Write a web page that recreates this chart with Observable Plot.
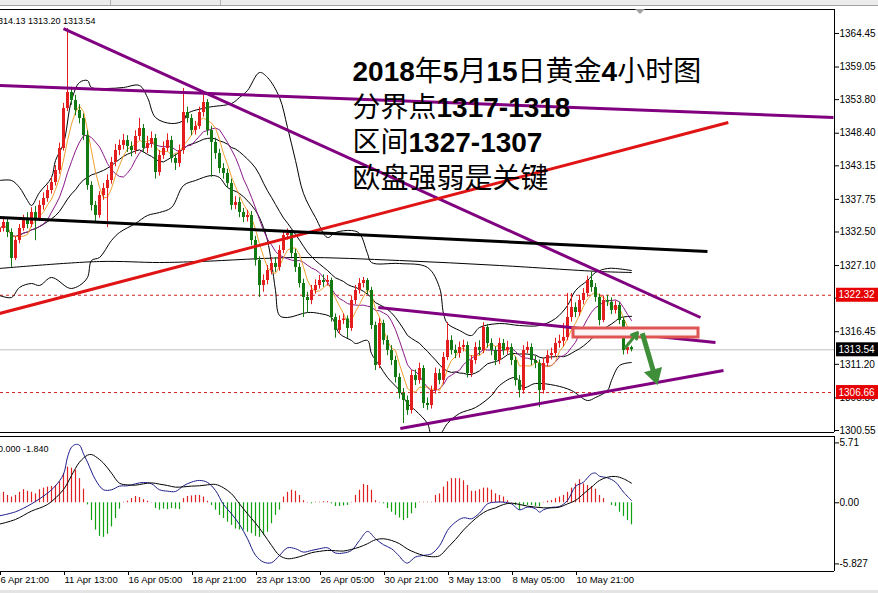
<!DOCTYPE html>
<html><head><meta charset="utf-8">
<script src="https://cdn.jsdelivr.net/npm/d3@7"></script>
<script src="https://cdn.jsdelivr.net/npm/@observablehq/plot@0.6"></script>
<style>
html,body{margin:0;padding:0;background:#fff;}
#wrap{position:relative;width:878px;height:593px;overflow:hidden;background:#fff;}
#wrap svg{position:absolute;left:0;}
.chrome{position:absolute;}
</style></head><body><div id="wrap">
<div class="chrome" style="left:0;top:0;width:878px;height:5px;background:#ececec"></div>
<div class="chrome" style="left:0;top:5px;width:878px;height:1px;background:#a0a0a0"></div>
<div class="chrome" style="left:110px;top:0;width:1px;height:5px;background:#b0b0b0"></div>
<div class="chrome" style="left:220px;top:0;width:1px;height:5px;background:#b0b0b0"></div>
<div class="chrome" style="left:0;top:590px;width:878px;height:3px;background:#e4e4e4"></div>
</div>
<script>
// ---------------- DATA (4H XAUUSD, bar index 0 = 6 Apr 21:00) ----------------
const open = [
1332.40,1333.06,1334.03,1332.42,1328.23,1331.13,1333.06,1334.35,1333.71,1335.64,
1334.67,1336.77,1337.89,1339.18,1340.47,1342.40,1345.94,1352.38,1354.95,1353.67,
1352.06,1350.77,1348.03,1339.98,1336.77,1335.16,1338.38,1339.50,1340.79,1343.69,
1345.62,1346.42,1347.23,1346.26,1345.62,1347.87,1349.16,1345.94,1346.74,1347.55,
1342.08,1344.81,1345.94,1347.23,1344.33,1343.53,1345.62,1351.73,1350.77,1348.83,
1349.48,1351.73,1353.34,1348.83,1346.91,1345.13,1342.72,1341.92,1340.31,1336.77,
1337.25,1335.64,1334.83,1335.16,1331.13,1327.91,1323.89,1324.69,1326.30,1327.43,
1326.79,1329.52,1331.94,1332.26,1329.04,1326.79,1324.21,1321.96,1321.47,1323.08,
1323.89,1324.69,1324.37,1324.69,1318.74,1316.65,1318.26,1318.50,1316.97,1321.47,
1323.08,1324.21,1324.69,1323.08,1317.45,1311.01,1317.77,1315.04,1313.43,1311.82,
1309.08,1306.51,1305.38,1303.77,1309.40,1308.60,1310.53,1304.90,1304.57,1306.99,
1309.72,1308.60,1312.30,1315.04,1313.43,1312.94,1313.91,1314.23,1309.72,1311.82,
1313.91,1313.43,1317.13,1314.55,1313.43,1311.82,1314.55,1313.43,1313.91,1311.82,
1308.60,1306.99,1313.43,1313.91,1311.82,1311.34,1306.99,1311.34,1312.62,1312.94,
1314.55,1314.90,1315.52,1318.74,1320.35,1319.54,1321.47,1322.60,1324.69,1323.56,
1321.96,1318.26,1321.47,1321.20,1319.87,1320.67,1318.26,1313.43,1313.91];
const high = [
1334.0,1334.9,1334.6,1333.0,1331.8,1333.7,1335.2,1335.6,1336.4,1336.6,
1337.5,1338.8,1340.0,1341.3,1343.2,1346.8,1353.2,1365.25,1355.8,1354.5,
1353.0,1351.5,1348.8,1340.6,1337.4,1339.0,1340.3,1341.7,1344.5,1346.6,
1347.3,1348.2,1348.0,1347.0,1348.8,1350.8,1349.8,1347.9,1348.6,1348.2,
1345.6,1347.0,1348.3,1347.9,1345.0,1346.5,1355.6,1352.6,1351.4,1350.3,
1352.6,1354.95,1353.8,1349.5,1347.6,1345.8,1343.5,1342.6,1341.0,1338.2,
1338.0,1336.3,1336.0,1335.8,1331.8,1328.5,1325.6,1327.1,1328.3,1328.4,
1330.3,1332.42,1333.0,1332.8,1329.7,1327.4,1324.9,1322.8,1323.9,1324.8,
1325.5,1325.6,1325.5,1325.1,1319.3,1319.0,1319.3,1319.0,1322.2,1323.9,
1325.0,1325.18,1325.0,1323.6,1318.0,1318.6,1318.3,1315.8,1314.2,1312.5,
1309.7,1307.3,1306.1,1310.2,1310.3,1311.4,1311.0,1305.8,1307.7,1310.6,
1310.4,1313.1,1317.93,1315.8,1314.3,1314.8,1315.1,1314.8,1312.6,1314.7,
1315.0,1317.9,1317.6,1315.3,1314.0,1315.4,1315.2,1314.9,1314.5,1312.4,
1309.4,1314.2,1314.8,1314.5,1312.5,1311.9,1312.2,1313.4,1313.8,1315.4,
1315.9,1317.77,1322.6,1322.6,1321.1,1322.3,1323.4,1325.4,1325.98,1324.2,
1322.5,1322.2,1322.3,1321.9,1321.4,1321.2,1318.7,1314.6,1314.13];
const low = [
1331.8,1332.5,1331.6,1326.8,1327.9,1330.6,1332.6,1333.0,1333.2,1331.1,
1334.2,1336.0,1337.3,1338.6,1339.9,1341.8,1345.5,1351.9,1352.9,1351.2,
1349.9,1347.2,1339.2,1335.9,1333.9,1334.7,1337.6,1333.2,1340.2,1343.0,
1344.8,1345.7,1345.3,1344.6,1345.0,1347.2,1345.2,1345.1,1346.0,1341.0,
1341.5,1344.2,1345.4,1343.6,1342.4,1342.9,1345.0,1350.0,1348.0,1348.1,
1349.0,1351.0,1348.0,1341.3,1344.2,1341.9,1341.0,1339.5,1336.0,1336.1,
1334.8,1334.0,1334.1,1330.3,1327.0,1321.96,1322.8,1324.0,1325.6,1326.0,
1326.2,1329.0,1331.2,1328.4,1326.0,1323.5,1318.74,1319.4,1320.8,1322.5,
1323.3,1323.6,1323.8,1318.0,1315.4,1316.0,1317.6,1315.36,1316.5,1320.8,
1322.5,1323.5,1322.4,1316.8,1310.2,1310.5,1314.3,1312.6,1311.0,1308.2,
1305.6,1301.68,1303.0,1303.2,1307.8,1308.0,1304.1,1303.8,1304.0,1306.4,
1307.9,1308.0,1311.8,1312.7,1312.1,1312.2,1313.2,1309.0,1309.1,1311.2,
1312.6,1312.9,1313.8,1312.6,1311.0,1311.2,1312.6,1312.8,1311.0,1307.7,
1305.8,1306.4,1312.9,1311.0,1310.5,1304.25,1306.4,1310.8,1311.9,1312.3,
1313.8,1314.0,1315.0,1318.0,1318.7,1318.9,1320.8,1322.0,1322.8,1321.2,
1317.4,1317.9,1320.5,1319.2,1319.3,1317.6,1312.7,1312.8,1313.20];
const close = [
1333.06,1334.03,1332.42,1328.23,1331.13,1333.06,1334.35,1333.71,1335.64,1334.67,
1336.77,1337.89,1339.18,1340.47,1342.40,1345.94,1352.38,1354.95,1353.67,1352.06,
1350.77,1348.03,1339.98,1336.77,1335.16,1338.38,1339.50,1340.79,1343.69,1345.62,
1346.42,1347.23,1346.26,1345.62,1347.87,1349.16,1345.94,1346.74,1347.55,1342.08,
1344.81,1345.94,1347.23,1344.33,1343.53,1345.62,1351.73,1350.77,1348.83,1349.48,
1351.73,1353.34,1348.83,1346.91,1345.13,1342.72,1341.92,1340.31,1336.77,1337.25,
1335.64,1334.83,1335.16,1331.13,1327.91,1323.89,1324.69,1326.30,1327.43,1326.79,
1329.52,1331.94,1332.26,1329.04,1326.79,1324.21,1321.96,1321.47,1323.08,1323.89,
1324.69,1324.37,1324.69,1318.74,1316.65,1318.26,1318.50,1316.97,1321.47,1323.08,
1324.21,1324.69,1323.08,1317.45,1311.01,1317.77,1315.04,1313.43,1311.82,1309.08,
1306.51,1305.38,1303.77,1309.40,1308.60,1310.53,1304.90,1304.57,1306.99,1309.72,
1308.60,1312.30,1315.04,1313.43,1312.94,1313.91,1314.23,1309.72,1311.82,1313.91,
1313.43,1317.13,1314.55,1313.43,1311.82,1314.55,1313.43,1313.91,1311.82,1308.60,
1306.99,1313.43,1313.91,1311.82,1311.34,1306.99,1311.34,1312.62,1312.94,1314.55,
1314.90,1315.52,1318.74,1320.35,1319.54,1321.47,1322.60,1324.69,1323.56,1321.96,
1318.26,1321.47,1321.20,1319.87,1320.67,1318.26,1313.43,1313.91,1313.54];

// Bollinger band envelopes and long moving average: [bar, price]
const bbUpper = [[0,1340.79],[3,1340.79],[5,1339.66],[7,1337.57],[8,1336.77],[10,1338.86],[13,1341.27],[14,1344.01],[16,1346.74],[18,1353.67],[20,1356.56],[22,1356.88],[23,1355.76],[27,1355.6],[31,1355.76],[35,1356.08],[37,1354.15],[39,1350.93],[43,1349.96],[46,1350.45],[47,1351.57],[52,1352.54],[58,1353.18],[60,1354.15],[62,1355.27],[65,1358.17],[67,1357.37],[70,1354.15],[72,1349.32],[74,1344.01],[76,1338.70],[79,1334.83],[82,1331.61],[84,1332.42],[88,1332.74],[90,1332.26],[92,1329.04],[93,1327.59],[100,1327.43],[107,1326.79],[110,1323.56],[111,1319.38],[112,1317.77],[115,1316.65],[118,1315.84],[120,1317.13],[125,1317.77],[130,1317.45],[135,1317.45],[139,1318.58],[142,1320.67],[144,1323.08],[147,1324.69],[149,1325.98],[152,1326.63],[154,1326.63],[158,1326.30]];
const bbLower = [[0,1322.28],[3,1321.96],[5,1323.57],[8,1324.21],[10,1323.89],[13,1325.18],[17,1323.57],[18,1323.41],[20,1323.89],[22,1325.18],[23,1327.91],[25,1328.40],[28,1331.13],[30,1332.42],[34,1333.87],[37,1335.16],[40,1335.64],[43,1336.44],[46,1339.98],[49,1340.79],[53,1341.59],[55,1341.27],[57,1339.66],[60,1338.70],[64,1335.96],[66,1333.22],[67,1331.13],[68,1327.59],[69,1323.08],[70,1319.06],[72,1318.74],[77,1319.54],[80,1319.38],[83,1318.74],[85,1316.16],[88,1315.04],[89,1314.55],[92,1315.04],[93,1312.94],[95,1311.01],[97,1309.08],[100,1306.99],[102,1304.90],[104,1303.77],[107,1301.68],[108,1299.9],[110,1299.9],[112,1301.68],[115,1303.29],[119,1304.25],[123,1306.18],[125,1307.79],[129,1309.08],[131,1307.47],[134,1308.12],[139,1307.79],[143,1306.99],[147,1305.38],[149,1305.86],[152,1306.99],[153,1308.60],[155,1311.01],[158,1311.50]];
const longMA = [[0,1326.63],[25,1327.75],[40,1327.59],[50,1327.75],[75,1328.40],[100,1327.91],[125,1327.11],[150,1326.14],[158,1325.98]];

// MACD panel
const macdHist = [
0.9,1.0,0.7,0.55,0.7,1.0,1.25,1.1,1.0,0.85,
1.25,1.4,1.5,1.55,1.65,2.0,2.75,3.4,3.3,3.1,
2.3,1.3,-0.2,-1.7,-2.6,-3.2,-3.3,-3.0,-2.3,-1.5,
-0.6,0.05,0.15,0.4,0.6,0.5,0.3,0.15,0.03,-0.55,
-0.7,-0.6,-0.65,-0.55,-0.6,-0.65,0.4,0.6,0.65,0.7,
0.7,0.55,0.15,-0.25,-0.7,-1.2,-1.5,-1.85,-2.15,-2.5,
-2.6,-2.6,-2.8,-2.95,-3.2,-3.3,-3.1,-2.8,-2.0,-1.2,
-0.7,0.55,1.0,1.2,1.1,0.7,0.2,0.05,-0.1,0.05,
0.05,0.1,0.1,-0.1,-0.35,-0.35,-0.3,-0.25,0.05,0.7,
1.2,1.75,1.65,1.2,0.2,0.05,-0.1,-0.55,-0.9,-1.2,
-1.45,-1.7,-1.5,-1.05,-0.55,0.05,0.05,0.05,0.05,0.7,
0.85,1.5,2.0,2.3,2.3,2.3,2.1,1.65,1.1,1.1,
1.25,1.4,1.4,1.2,0.85,0.7,0.55,0.2,0.03,-0.25,
-0.7,-0.25,-0.25,-0.25,-0.35,-0.4,0.05,0.15,0.2,0.4,
0.55,0.7,1.0,1.4,1.8,2.2,1.8,1.65,1.55,1.3,
0.7,0.4,0.0,-0.25,-0.35,-0.9,-1.3,-1.7,-2.1];
const macdMain = [[0,-1.24],[4,-0.86],[8,-0.1],[12,0.92],[14,1.62],[16,2.73],[17,4.35],[18,5.3],[19,5.56],[20,5.49],[21,4.67],[22,3.87],[24,2.19],[26,1.24],[28,1.24],[30,1.59],[32,1.62],[34,1.81],[36,1.94],[38,1.81],[40,1.24],[42,1.11],[44,1.08],[46,1.62],[48,1.97],[50,2.13],[52,1.94],[54,1.17],[56,-0.16],[58,-1.05],[60,-2.06],[62,-3.43],[64,-5.0],[66,-5.65],[68,-5.71],[70,-5.02],[72,-4.29],[74,-4.38],[76,-4.7],[78,-4.54],[80,-4.38],[82,-4.29],[84,-4.79],[86,-4.79],[88,-4.54],[90,-3.59],[92,-2.73],[94,-3.43],[96,-4.0],[98,-4.38],[100,-5.11],[101,-5.56],[102,-5.75],[104,-5.17],[106,-5.02],[108,-4.86],[110,-4.1],[111,-3.4],[112,-2.63],[114,-1.84],[116,-1.43],[118,-1.52],[120,-0.98],[122,-0.1],[124,0.06],[126,0.06],[128,-0.1],[130,-0.67],[132,-0.41],[134,-0.57],[135,-0.89],[136,-0.67],[138,-0.44],[140,-0.35],[142,0.22],[144,1.56],[146,1.97],[148,2.76],[149,2.83],[150,2.54],[152,2.38],[154,1.97],[156,1.02],[158,0.22]];
const macdSignal = [[0,-2.03],[4,-1.59],[8,-0.79],[12,-0.16],[16,1.27],[18,2.6],[20,3.87],[22,4.54],[23,4.6],[24,4.41],[26,3.78],[28,2.83],[30,1.87],[32,1.71],[34,1.68],[36,1.81],[38,1.9],[40,1.78],[42,1.65],[44,1.49],[46,1.52],[48,1.59],[50,1.62],[52,1.71],[54,1.75],[56,1.43],[58,0.86],[60,-0.1],[62,-1.05],[64,-1.94],[66,-2.95],[68,-4.06],[70,-5.02],[72,-5.33],[74,-5.24],[76,-5.02],[78,-4.76],[80,-4.63],[82,-4.54],[84,-4.57],[86,-4.6],[88,-4.44],[90,-4.22],[92,-3.9],[94,-3.52],[96,-3.43],[98,-3.59],[100,-3.9],[102,-4.41],[104,-4.76],[106,-5.02],[108,-5.14],[110,-5.05],[112,-4.3],[114,-3.5],[116,-2.6],[118,-1.85],[120,-1.2],[122,-0.73],[124,-0.48],[126,-0.16],[128,-0.03],[130,-0.16],[132,-0.32],[134,-0.41],[136,-0.48],[138,-0.48],[140,-0.41],[142,-0.1],[144,0.22],[146,0.86],[148,1.49],[150,2.13],[152,2.44],[154,2.51],[156,2.29],[158,1.87]];

// Drawn objects (bar, price)
const trendLines = [
  {x1:16, y1:1365.25, x2:175.25, y2:1318.74, color:"#800080"},
  {x1:0, y1:1356.08, x2:208.5, y2:1350.93, color:"#800080"},
  {x1:0, y1:1319.38, x2:182.2, y2:1350.12, color:"#e01414"},
  {x1:0, y1:1334.83, x2:177, y2:1329.36, color:"#000000"},
  {x1:94.7, y1:1320.35, x2:179, y2:1314.72, color:"#800080"},
  {x1:100.2, y1:1300.87, x2:181, y2:1310.21, color:"#800080"}
];
const dashedLevels = [1322.32, 1306.66];
const currentPrice = 1313.54;
const zoneBox = [{x1:143.5, x2:174.75, y1:1315.52, y2:1316.97}];
const smallArrow = [{x1:156.5, y1:1313.9, x2:159.5, y2:1316.3}];
const bigArrow = [{x1:160.7, y1:1316.2, x2:163.75, y2:1309.5}];
const bigArrowHead = [{x:163.75, y:1309.5}];

const priceTicks = [1364.45,1359.05,1353.80,1348.40,1343.15,1337.75,1332.50,1327.10,1321.85,1316.45,1311.20,1305.80,1300.55];
const priceLabels = [{v:1322.32, bg:"#e60000"}, {v:1313.54, bg:"#000000"}, {v:1306.66, bg:"#e60000"}];
const macdTicks = [5.71, 0, -5.827];
const macdTickText = ["5.71", "0.00", "-5.827"];
const timeTicks = [0,16,32,48,64,80,96,112,128,144];
const timeLabels = ["6 Apr 21:00","11 Apr 13:00","16 Apr 05:00","18 Apr 21:00","23 Apr 13:00","26 Apr 05:00","30 Apr 21:00","3 May 13:00","8 May 05:00","10 May 21:00"];
const noteText = "2018年5月15日黄金4小时图\n分界点1317-1318\n区间1327-1307\n欧盘强弱是关键";
const ohlcText = "1314.13 1313.20 1313.54";
const macdText = "0.000 -1.840";

// ---------------- CHART ----------------
const RED = "#e41e1e", GREEN = "#137a13";
const HRED = "#e02020", HGREEN = "#10a010";
const bars = close.map((c, i) => ({i, o: open[i], h: high[i], l: low[i], c}));
const upBars = bars.filter(d => d.c >= d.o);
const downBars = bars.filter(d => d.c < d.o);
const hist = macdHist.map((v, i) => ({i, v}));
const xDomain = [0.25, 208.75];
const FONT = '"Liberation Sans", Arial, sans-serif';

const main = Plot.plot({
  width: 878, height: 435,
  marginLeft: 0, marginRight: 44, marginTop: 9, marginBottom: 3,
  x: {domain: xDomain, axis: null},
  y: {domain: [1300.23, 1368.31], axis: null},
  color: {type: "identity"},
  style: {fontFamily: FONT, fontSize: "10px", background: "transparent"},
  marks: [
    Plot.ruleY(dashedLevels, {stroke: "#d02020", strokeDasharray: "3,3", strokeWidth: 1}),
    Plot.ruleY([currentPrice], {stroke: "#c0c0c0", strokeWidth: 1}),
    Plot.line(longMA, {x: d => d[0], y: d => d[1], stroke: "#000", strokeWidth: 1, curve: "catmull-rom", clip: true}),
    Plot.line(bbUpper, {x: d => d[0], y: d => d[1], stroke: "#000", strokeWidth: 1, curve: "catmull-rom", clip: true}),
    Plot.line(bbLower, {x: d => d[0], y: d => d[1], stroke: "#000", strokeWidth: 1, curve: "catmull-rom", clip: true}),
    Plot.lineY(bars, Plot.windowY({k: 20, anchor: "end", reduce: "mean"}, {x: "i", y: "c", stroke: "#000", strokeWidth: 1, clip: true})),
    Plot.lineY(bars, Plot.windowY({k: 10, anchor: "end", reduce: "mean"}, {x: "i", y: "c", stroke: "#8a1a8a", strokeWidth: 1, clip: true})),
    Plot.lineY(bars, Plot.windowY({k: 5, anchor: "end", reduce: "mean"}, {x: "i", y: "c", stroke: "#f0a030", strokeWidth: 1, clip: true})),
    Plot.ruleX(upBars, {x: "i", y1: "l", y2: "h", stroke: RED, strokeWidth: 1}),
    Plot.ruleX(downBars, {x: "i", y1: "l", y2: "h", stroke: GREEN, strokeWidth: 1}),
    Plot.ruleX(upBars, {x: "i", y1: "o", y2: "c", stroke: RED, strokeWidth: 3}),
    Plot.ruleX(downBars, {x: "i", y1: "o", y2: "c", stroke: GREEN, strokeWidth: 3}),
    Plot.link(trendLines, {x1: "x1", y1: "y1", x2: "x2", y2: "y2", stroke: "color", strokeWidth: 3, clip: true}),
    Plot.rect(zoneBox, {x1: "x1", x2: "x2", y1: "y1", y2: "y2", fill: "#fdf3f3", stroke: "#e05454", strokeWidth: 3}),
    Plot.arrow(smallArrow, {x1: "x1", y1: "y1", x2: "x2", y2: "y2", stroke: "#3f8f3a", strokeWidth: 3, headLength: 8}),
    Plot.link(bigArrow, {x1: "x1", y1: "y1", x2: "x2", y2: "y2", stroke: "#3f8f3a", strokeWidth: 5}),
    Plot.dot(bigArrowHead, {x: "x", y: "y", symbol: "triangle", r: 7, rotate: 164, fill: "#3f8f3a"}),
    Plot.ruleX([xDomain[1]], {stroke: "#000"}),
    Plot.ruleY([1368.31], {stroke: "#000"}),
    Plot.ruleY([1300.23], {stroke: "#000"}),
    Plot.axisY(priceTicks, {anchor: "right", tickSize: 4, tickPadding: 1, tickFormat: d => d.toFixed(2), fontSize: 10, label: null}),
    Plot.text(priceLabels, {y: "v", text: d => d.v.toFixed(2), frameAnchor: "right", dx: 4, textAnchor: "start", fill: "#fff", fontSize: 10}),
    Plot.text([noteText], {frameAnchor: "top-left", dx: 352, dy: 46, lineAnchor: "top", lineHeight: 1.275, fontSize: 28, fill: "#000",
      fontFamily: '"Liberation Sans","Noto Sans CJK SC",sans-serif', textAnchor: "start"}),
    Plot.text([ohlcText], {frameAnchor: "top-left", dx: 95, dy: 8, textAnchor: "end", fontSize: 9, fill: "#000"})
  ]
});

const macd = Plot.plot({
  width: 878, height: 158,
  marginLeft: 0, marginRight: 44, marginTop: 1, marginBottom: 22,
  x: {domain: xDomain, axis: null},
  y: {domain: [-6.55, 6.32], axis: null},
  style: {fontFamily: FONT, fontSize: "10px", background: "transparent"},
  marks: [
    Plot.ruleX(hist.filter(d => d.v >= 0), {x: "i", y1: 0, y2: "v", stroke: HRED, strokeWidth: 1.2}),
    Plot.ruleX(hist.filter(d => d.v < 0), {x: "i", y1: 0, y2: "v", stroke: HGREEN, strokeWidth: 1.2}),
    Plot.line(macdMain, {x: d => d[0], y: d => d[1], stroke: "#1c1c8a", strokeWidth: 1, curve: "catmull-rom"}),
    Plot.line(macdSignal, {x: d => d[0], y: d => d[1], stroke: "#000", strokeWidth: 1, curve: "catmull-rom"}),
    Plot.ruleX([xDomain[1]], {stroke: "#000"}),
    Plot.ruleY([6.32], {stroke: "#000"}),
    Plot.ruleY([-6.55], {stroke: "#000"}),
    Plot.axisY(macdTicks, {anchor: "right", tickSize: 4, tickPadding: 1, tickFormat: d => macdTickText[macdTicks.indexOf(d)], fontSize: 10, label: null}),
    Plot.axisX(timeTicks, {anchor: "bottom", tickSize: 4, tickPadding: 1, textAnchor: "start", dx: 1, fontSize: 9.5, label: null,
      tickFormat: d => timeLabels[timeTicks.indexOf(d)]}),
    Plot.text([macdText], {frameAnchor: "top-left", dx: 48, dy: 9, textAnchor: "end", fontSize: 9, fill: "#000"})
  ]
});

const wrap = document.getElementById("wrap");
main.style.top = "0px";
macd.style.top = "435px";
wrap.appendChild(main);
wrap.appendChild(macd);

const svgNS = "http://www.w3.org/2000/svg";
const yS = main.scale("y");
const allText = Array.from(main.querySelectorAll("text"));

// coloured backgrounds behind the highlighted right-axis price labels
priceLabels.forEach(d => {
  const label = d.v.toFixed(2);
  const t = allText.find(el => el.textContent.trim() === label);
  if (!t) return;
  const grp = t.parentNode;
  const r = document.createElementNS(svgNS, "rect");
  const py = yS.apply(d.v);
  r.setAttribute("x", 836); r.setAttribute("y", py - 7);
  r.setAttribute("width", 42); r.setAttribute("height", 14);
  r.setAttribute("fill", d.bg);
  grp.parentNode.insertBefore(r, grp);
});

// bold numerals inside the annotation
const noteEl = allText.find(el => el.textContent.includes("黄金"));
if (noteEl) {
  const lines = noteEl.querySelectorAll("tspan");
  const targets = lines.length ? Array.from(lines) : [noteEl];
  targets.forEach(ts => {
    const t = ts.textContent;
    const parts = t.split(/([0-9\-]+)/).filter(s => s.length);
    ts.textContent = "";
    parts.forEach(p => {
      const s = document.createElementNS(svgNS, "tspan");
      s.textContent = p;
      if (/^[0-9\-]+$/.test(p)) s.setAttribute("font-weight", "bold");
      ts.appendChild(s);
    });
  });
}
// chart-shift marker
const tri = document.createElement("div");
tri.className = "chrome";
tri.style.cssText = "position:absolute;left:635px;top:9px;width:0;height:0;border-left:5px solid transparent;border-right:5px solid transparent;border-top:5px solid #a0a0a0;";
wrap.appendChild(tri);
</script></body></html>
